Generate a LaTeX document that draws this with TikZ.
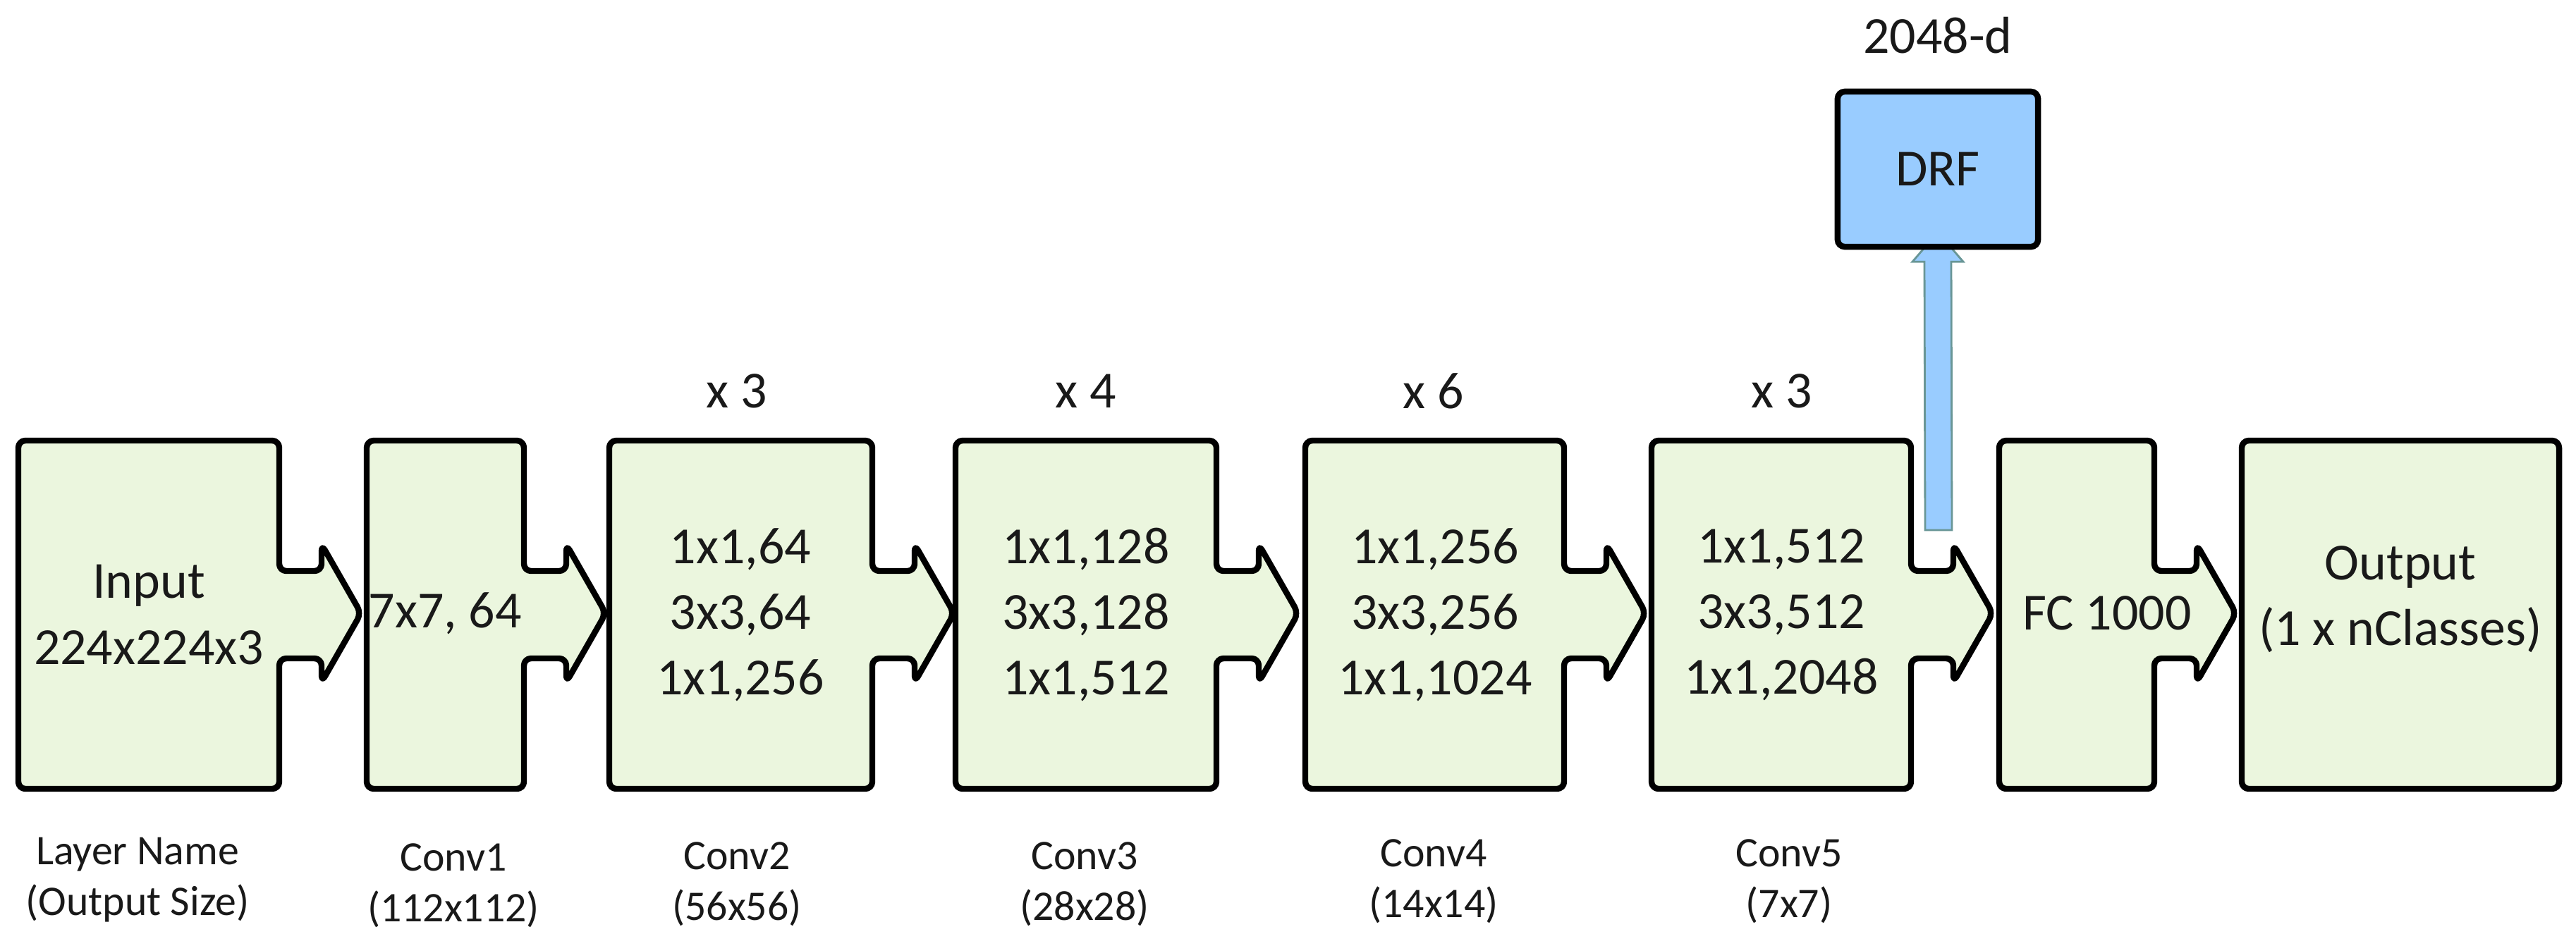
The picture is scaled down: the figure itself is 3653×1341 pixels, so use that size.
\documentclass[tikz,border=0pt]{standalone}
\usepackage{fontspec}
\setmainfont{Carlito}
\usetikzlibrary{calc,backgrounds}
\definecolor{blockgreen}{RGB}{235,246,222}
\definecolor{drfblue}{RGB}{153,204,255}
\definecolor{drfedge}{RGB}{105,150,150}
\tikzset{
	block/.style={draw=black, fill=blockgreen, line width=2.4pt, rounded corners=0.1cm, line join=round},
	blocktext/.style={font=\fontsize{21}{26.5}\selectfont, align=center, text=black!90},
	sizetext/.style={font=\fontsize{17}{20.5}\selectfont, align=center, text=black!90},
}
% block with an arrow tab on its right side: #1 left, #2 right
\newcommand{\tabblock}[2]{%
	\draw[block] (#1,625) -- (#2,625) -- (#2,810) -- ({#2+60},810) -- ({#2+60},772)
		-- ({#2+116},870) -- ({#2+60},968) -- ({#2+60},934) -- (#2,934) -- (#2,1119) -- (#1,1119) -- cycle;}
\newcommand{\plainblock}[2]{\draw[block] (#1,625) rectangle (#2,1119);}
\begin{document}
\begin{tikzpicture}[x=0.01cm, y=-0.01cm]
		\useasboundingbox (0,0) rectangle (3653,1341);

		\tabblock{26}{396}
		\tabblock{520}{743}
		\tabblock{864}{1237}
		\tabblock{1355}{1725}
		\tabblock{1851}{2218}
		\tabblock{2342}{2710}
		\tabblock{2835}{3055}
		\plainblock{3179}{3629}

		\node[blocktext] (input) at (211,872) {Input\\224x224x3};
		\node[blocktext] (conv1) at (631,870) {7x7, 64};
		\node[blocktext] (conv2) at (1050,872) {1x1,64\\3x3,64\\1x1,256};
		\node[blocktext] (conv3) at (1540,872) {1x1,128\\3x3,128\\1x1,512};
		\node[blocktext] (conv4) at (2035,872) {1x1,256\\3x3,256\\1x1,1024};
		\node[blocktext] (conv5) at (2526,872) {1x1,512\\3x3,512\\1x1,2048};
		\node[blocktext] (fc) at (2988,870) {FC 1000};
		\node[blocktext] (output) at (3404,850) {Output\\(1 x nClasses)};

		\node[blocktext] (rep2) at (1045,555) {x 3};
		\node[blocktext] (rep3) at (1540,555) {x 4};
		\node[blocktext] (rep4) at (2033,555) {x 6};
		\node[blocktext] (rep5) at (2527,555) {x 3};

		% DRF feature branch
		\node[blocktext] (dim) at (2748,50) {2048-d};
		\node[draw=black, fill=drfblue, line width=2.4pt, rounded corners=0.1cm,
			minimum width=2.84cm, minimum height=2.2cm, blocktext] (drf) at (2748,240) {DRF};
		\coordinate (drfin) at (2749,752);
		\begin{pgfonlayer}{background}
			\draw[drfedge, fill=drfblue, line width=0.8pt] ($(drfin)+(-19,0)$) -- ($(drfin)+(19,0)$)
				-- ($(drf.south)+(19,17)$) -- ($(drf.south)+(36,17)$) -- ($(drf.south)+(0,-25)$)
				-- ($(drf.south)+(-36,17)$) -- ($(drf.south)+(-19,17)$) -- cycle;
		\end{pgfonlayer}

		\node[sizetext] (lname) at (195,1248) {Layer Name\\(Output Size)};
		\node[sizetext] (size1) at (643,1256) {Conv1\\(112x112)};
		\node[sizetext] (size2) at (1045,1254) {Conv2\\(56x56)};
		\node[sizetext] (size3) at (1538,1254) {Conv3\\(28x28)};
		\node[sizetext] (size4) at (2033,1250) {Conv4\\(14x14)};
		\node[sizetext] (size5) at (2537,1250) {Conv5\\(7x7)};

	\end{tikzpicture}
\end{document}
